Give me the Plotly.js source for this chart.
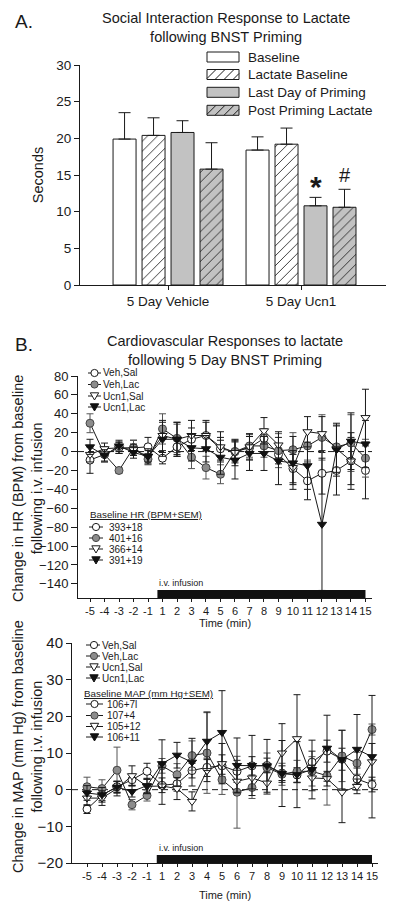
<!DOCTYPE html>
<html><head><meta charset="utf-8">
<script src="https://cdn.plot.ly/plotly-3.0.1.min.js"></script>
<style>html,body{margin:0;padding:0;background:#fff;}#chart{width:400px;height:913px;}</style>
</head><body><div id="chart"></div>
<script>
// ---------------- Panel A data ----------------
const groups = ['5 Day Vehicle', '5 Day Ucn1'];
const barSeries = ['Baseline', 'Lactate Baseline', 'Last Day of Priming', 'Post Priming Lactate'];
const baselineSec = [19.9, 18.4];
const baselineErr = [3.6, 1.8];
const lactateBaselineSec = [20.4, 19.2];
const lactateBaselineErr = [2.4, 2.2];
const lastDaySec = [20.8, 10.8];
const lastDayErr = [1.6, 1.15];
const postPrimingSec = [15.8, 10.6];
const postPrimingErr = [3.6, 2.45];
const lastDaySig = ['', '*'];
const postPrimingSig = ['', '#'];

// ---------------- Panel B data ----------------
const timeLabels = ['-5','-4','-3','-2','-1','1','2','3','4','5','6','7','8','9','10','11','12','13','14','15'];
const groupNames = ['Veh,Sal', 'Veh,Lac', 'Ucn1,Sal', 'Ucn1,Lac'];
const baselineHR = ['393+18', '401+16', '366+14', '391+19'];
const baselineMAP = ['106+7l', '107+4', '105+12', '106+11'];

const hrVehSal    = [-9,-3,4,4,5,-7,5,13,17,3,0,4,14,-3,-18,-31,-23,-20,-10,-20];
const hrVehSalErr = [14,8,6,8,10,6,8,12,14,12,12,12,10,10,15,20,22,26,25,30];
const hrVehLac    = [30,-3,-20,4,-8,24,14,-6,-17,-24,0,6,6,1,2,6,15,5,9,-7];
const hrVehLacErr = [10,8,3,8,6,16,15,12,12,10,10,12,12,18,18,15,24,22,30,20];
const hrUcnSal    = [-3,3,4,2,-5,17,13,17,17,5,-1,5,22,7,-17,21,19,3,-10,36];
const hrUcnSalErr = [8,6,6,6,8,16,18,16,16,16,14,14,14,14,18,16,18,25,30,30];
const hrUcnLac    = [5,-4,6,-1,-5,13,13,4,3,-6,-9,-2,-2,-10,-12,-15,-77,2,11,8];
const hrUcnLacErr = [8,6,6,6,6,18,18,14,14,18,20,18,18,25,28,25,70,28,30,25];

const mapVehSal    = [-5.3,-1.5,0.8,2.7,5.0,1.2,1.6,5.2,6.1,6.5,5.0,6.5,6.6,4.5,4.0,7.5,10.5,8.3,2.9,1.4];
const mapVehSalErr = [1.2,1.5,1.5,1.5,2.2,2.0,2.0,2.0,2.5,3.0,3.0,2.5,2.0,2.0,2.0,3.0,3.0,3.0,3.0,2.0];
const mapVehLac    = [0.8,0.3,5.3,-4.1,-1.6,6.5,4.1,9.3,10.0,2.7,-0.7,0.6,6.0,4.2,5.0,5.0,3.8,9.2,7.2,16.4];
const mapVehLacErr = [2.6,2.4,6.3,1.4,1.5,2.0,3.0,4.0,11.0,4.0,9.8,3.0,4.0,3.0,3.0,4.0,8.0,7.0,3.0,1.5];
const mapUcnSal    = [-2.3,-2.3,0.3,3.8,0.9,1.0,0.3,-3.2,5.2,7.1,2.3,3.2,1.8,10.0,13.9,3.2,3.0,-0.7,0.9,7.6];
const mapUcnSalErr = [2.0,2.0,2.0,2.7,2.0,5.0,3.0,2.6,3.0,5.5,3.0,3.0,3.0,8.0,12.0,3.5,2.0,8.3,2.0,5.0];
const mapUcnLac    = [-0.9,-1.4,0.7,-0.5,1.1,7.1,9.4,7.5,13.2,15.6,6.6,6.6,6.5,4.4,4.1,5.5,11.3,8.2,11.0,9.0];
const mapUcnLacErr = [2.0,2.0,1.5,1.5,2.0,6.5,3.5,6.5,8.0,11.4,7.5,8.2,7.2,9.0,9.0,8.0,9.0,8.0,9.5,16.7];

// ---------------- helpers ----------------
const W = 400, H = 913;
const px = x => x / W;
const py = y => 1 - y / H;
const FONT = 'Liberation Sans, Arial, sans-serif';
const INK = '#1a1a1a';

const barStyles = [
  {color: '#ffffff', hatch: false},
  {color: '#ffffff', hatch: true},
  {color: '#c2c2c2', hatch: false},
  {color: '#c2c2c2', hatch: true}
];
const barVals = [baselineSec, lactateBaselineSec, lastDaySec, postPrimingSec];
const barErrs = [baselineErr, lactateBaselineErr, lastDayErr, postPrimingErr];
const barSigs = [null, null, lastDaySig, postPrimingSig];

const seriesStyles = [
  {symbol: 'circle', fill: '#ffffff', edge: INK, err: INK},
  {symbol: 'circle', fill: '#8c8c8c', edge: '#444', err: '#555'},
  {symbol: 'triangle-down', fill: '#ffffff', edge: INK, err: INK},
  {symbol: 'triangle-down', fill: '#111111', edge: '#111', err: INK}
];
const hrVals = [hrVehSal, hrVehLac, hrUcnSal, hrUcnLac];
const hrErrs = [hrVehSalErr, hrVehLacErr, hrUcnSalErr, hrUcnLacErr];
const mapVals = [mapVehSal, mapVehLac, mapUcnSal, mapUcnLac];
const mapErrs = [mapVehSalErr, mapVehLacErr, mapUcnSalErr, mapUcnLacErr];

const traces = [];
barSeries.forEach((name, k) => {
  const st = barStyles[k];
  const marker = {color: st.color, line: {color: INK, width: 1}};
  if (st.hatch) marker.pattern = {shape: '/', size: 7, solidity: 0.12, fgcolor: INK, bgcolor: st.color, fillmode: 'replace'};
  traces.push({
    type: 'bar', name: name, x: groups, y: barVals[k], xaxis: 'x', yaxis: 'y',
    marker: marker, showlegend: false,
    error_y: {type: 'data', symmetric: false, array: barErrs[k], arrayminus: barErrs[k].map(() => 0),
              color: INK, thickness: 1, width: 6}
  });
});

function addLineSeries(vals, errs, xa, ya) {
  groupNames.forEach((name, k) => {
    const st = seriesStyles[k];
    traces.push({
      type: 'scatter', mode: 'lines+markers', name: name, x: timeLabels, y: vals[k],
      xaxis: xa, yaxis: ya, showlegend: false, cliponaxis: false,
      line: {color: INK, width: 1},
      marker: {symbol: st.symbol, size: 8, color: st.fill, line: {color: st.edge, width: 1}},
      error_y: {type: 'data', array: errs[k], color: st.err, thickness: 1, width: 3.5}
    });
  });
}
addLineSeries(hrVals, hrErrs, 'x2', 'y2');
addLineSeries(mapVals, mapErrs, 'x3', 'y3');

const shapes = [];
const annotations = [];

function txt(text, x, y, size, opts) {
  annotations.push(Object.assign({
    text: text, xref: 'paper', yref: 'paper', x: px(x), y: py(y),
    xanchor: 'left', yanchor: 'middle', showarrow: false,
    font: {size: size, family: FONT, color: INK}
  }, opts || {}));
}

// Panel labels & titles
txt('A.', 13, 22, 19);
txt('B.', 13, 344, 19);
txt('Social Interaction Response to Lactate<br>following BNST Priming', 226, 27, 14.5, {xanchor: 'center'});
txt('Cardiovascular Responses to lactate<br>following 5 Day BNST Priming', 225, 350, 14.5, {xanchor: 'center'});
// y-axis titles of panel B (two lines, rotated)
txt('Change in HR (BPM) from baseline<br>following i.v. infusion', 27, 489, 14.5, {xanchor: 'center', textangle: -90});
txt('Change in MAP (mm Hg) from baseline<br>following i.v. infusion', 27, 747, 14.5, {xanchor: 'center', textangle: -90});

// Panel A legend
function hatchLines(x0, x1, yTop, yBot, step) {
  let d = '';
  const h = yBot - yTop;
  for (let s = x0 - h; s < x1; s += step) {
    let t0 = Math.max(0, (x0 - s) / h), t1 = Math.min(1, (x1 - s) / h);
    if (t1 <= t0) continue;
    const xa = s + h * t0, ya = yBot - h * t0, xb = s + h * t1, yb = yBot - h * t1;
    d += `M${px(xa)},${py(ya)}L${px(xb)},${py(yb)}`;
  }
  return d;
}
const legACy = [57, 74.5, 92.3, 110.3];
barSeries.forEach((name, k) => {
  const st = barStyles[k];
  const y0 = legACy[k] - 5, y1 = legACy[k] + 5;
  shapes.push({type: 'rect', xref: 'paper', yref: 'paper', x0: px(207), x1: px(239), y0: py(y1), y1: py(y0),
               fillcolor: st.color, line: {color: INK, width: 1}});
  if (st.hatch) {
    shapes.push({type: 'path', xref: 'paper', yref: 'paper', path: hatchLines(207, 239, y0, y1, 9),
                 line: {color: INK, width: 1}});
  }
  txt(name, 246, legACy[k], 13.5);
});

// significance marks
barSigs.forEach((sig, k) => {
  if (!sig) return;
  const slot = (1 - 0.128) / barSeries.length;
  sig.forEach((s, g) => {
    if (!s) return;
    const star = s === '*';
    annotations.push({
      text: star ? '<b>*</b>' : s, xref: 'x', yref: 'y', x: g + (k - 1.5) * slot, y: barVals[k][g] + barErrs[k][g],
      yanchor: 'bottom', xanchor: 'center', showarrow: false, yshift: star ? -8 : 1,
      font: {size: star ? 30 : 20, family: FONT, color: INK}
    });
  });
});

// line legends
function legendGlyph(cx, cy, st, x0, x1) {
  shapes.push({type: 'line', xref: 'paper', yref: 'paper', x0: px(x0), x1: px(x1), y0: py(cy), y1: py(cy),
               line: {color: INK, width: 1}});
  if (st.symbol === 'circle') {
    shapes.push({type: 'circle', xref: 'paper', yref: 'paper', x0: px(cx - 3.6), x1: px(cx + 3.6),
                 y0: py(cy + 3.6), y1: py(cy - 3.6), fillcolor: st.fill, line: {color: st.edge, width: 1}});
  } else {
    shapes.push({type: 'path', xref: 'paper', yref: 'paper',
                 path: `M${px(cx - 4.2)},${py(cy - 3.2)}L${px(cx + 4.2)},${py(cy - 3.2)}L${px(cx)},${py(cy + 4)}Z`,
                 fillcolor: st.fill, line: {color: st.edge, width: 1}});
  }
}
function lineLegend(ys, labels, gx0, gx1, cx, tx) {
  labels.forEach((lab, k) => {
    legendGlyph(cx, ys[k], seriesStyles[k], gx0, gx1);
    txt(lab, tx, ys[k], 10);
  });
}
// HR legends
lineLegend([373, 384.5, 396, 407], groupNames, 88, 101, 94.5, 101);
txt('<u>Baseline HR (BPM+SEM)</u>', 88, 514, 9.8);
lineLegend([527, 538, 549, 560], baselineHR, 89, 103, 96, 107);
// MAP legends
lineLegend([645, 656, 667, 678], groupNames, 86, 100, 94, 100);
txt('<u>Baseline MAP (mm Hg+SEM)</u>', 82, 693, 9.8);
lineLegend([704, 715.5, 726.5, 737], baselineMAP, 86, 103, 94.5, 105);

// zero lines & infusion bars
[['x2', 'y2', 222], ['x3', 'y3', 220]].forEach(([xa, ya, hpx]) => {
  shapes.push({type: 'line', xref: xa + ' domain', yref: ya, x0: 0, x1: 1, y0: 0, y1: 0,
               line: {color: INK, width: 1, dash: '6px,4px'}, layer: 'below'});
  shapes.push({type: 'rect', xref: xa, yref: ya + ' domain', x0: 4.65, x1: 19, y0: 0, y1: 8 / hpx,
               fillcolor: '#111', line: {width: 0}});
  annotations.push({text: 'i.v. infusion', xref: xa, yref: ya + ' domain', x: 4.65, y: 15 / hpx,
                    xanchor: 'left', yanchor: 'middle', showarrow: false,
                    font: {size: 9, family: FONT, color: INK}});
});

const axBase = {showgrid: false, zeroline: false, showline: true, linecolor: INK, linewidth: 1,
                ticks: 'outside', tickcolor: INK, tickwidth: 1, automargin: false};

const layout = {
  width: W, height: H, margin: {l: 0, r: 0, t: 0, b: 0},
  paper_bgcolor: '#fff', plot_bgcolor: 'rgba(0,0,0,0)',
  font: {family: FONT, color: INK},
  showlegend: false,
  barmode: 'group', bargap: 0.128, bargroupgap: 0.207,
  xaxis: Object.assign({}, axBase, {domain: [px(80), px(386)], anchor: 'y', type: 'category',
          range: [-0.662, 1.639], ticklen: 4, tickfont: {size: 13.5}}),
  yaxis: Object.assign({}, axBase, {domain: [py(285), py(65)], anchor: 'x', range: [0, 30], dtick: 5,
          ticklen: 5, tickfont: {size: 13.5},
          title: {text: 'Seconds', font: {size: 14.5}, standoff: 9}}),
  xaxis2: Object.assign({}, axBase, {domain: [px(78), px(372)], anchor: 'y2', type: 'category',
          range: [-0.828, 19.45], ticklen: 3, tickfont: {size: 11},
          title: {text: 'Time (min)', font: {size: 11}, standoff: 1}}),
  yaxis2: Object.assign({}, axBase, {domain: [py(598), py(376)], anchor: 'x2', range: [-155, 80],
          tick0: 0, dtick: 20, ticklen: 6, tickfont: {size: 13}}),
  xaxis3: Object.assign({}, axBase, {domain: [px(72), px(378)], anchor: 'y3', type: 'category',
          range: [-1, 19.4], ticklen: 3, tickfont: {size: 11},
          title: {text: 'Time (min)', font: {size: 11}, standoff: 10}}),
  yaxis3: Object.assign({}, axBase, {domain: [py(863), py(643)], anchor: 'x3', range: [-20, 40],
          dtick: 10, ticklen: 5, tickfont: {size: 15}}),
  shapes: shapes,
  annotations: annotations
};

Plotly.newPlot('chart', traces, layout, {displayModeBar: false, staticPlot: true});
</script></body></html>
